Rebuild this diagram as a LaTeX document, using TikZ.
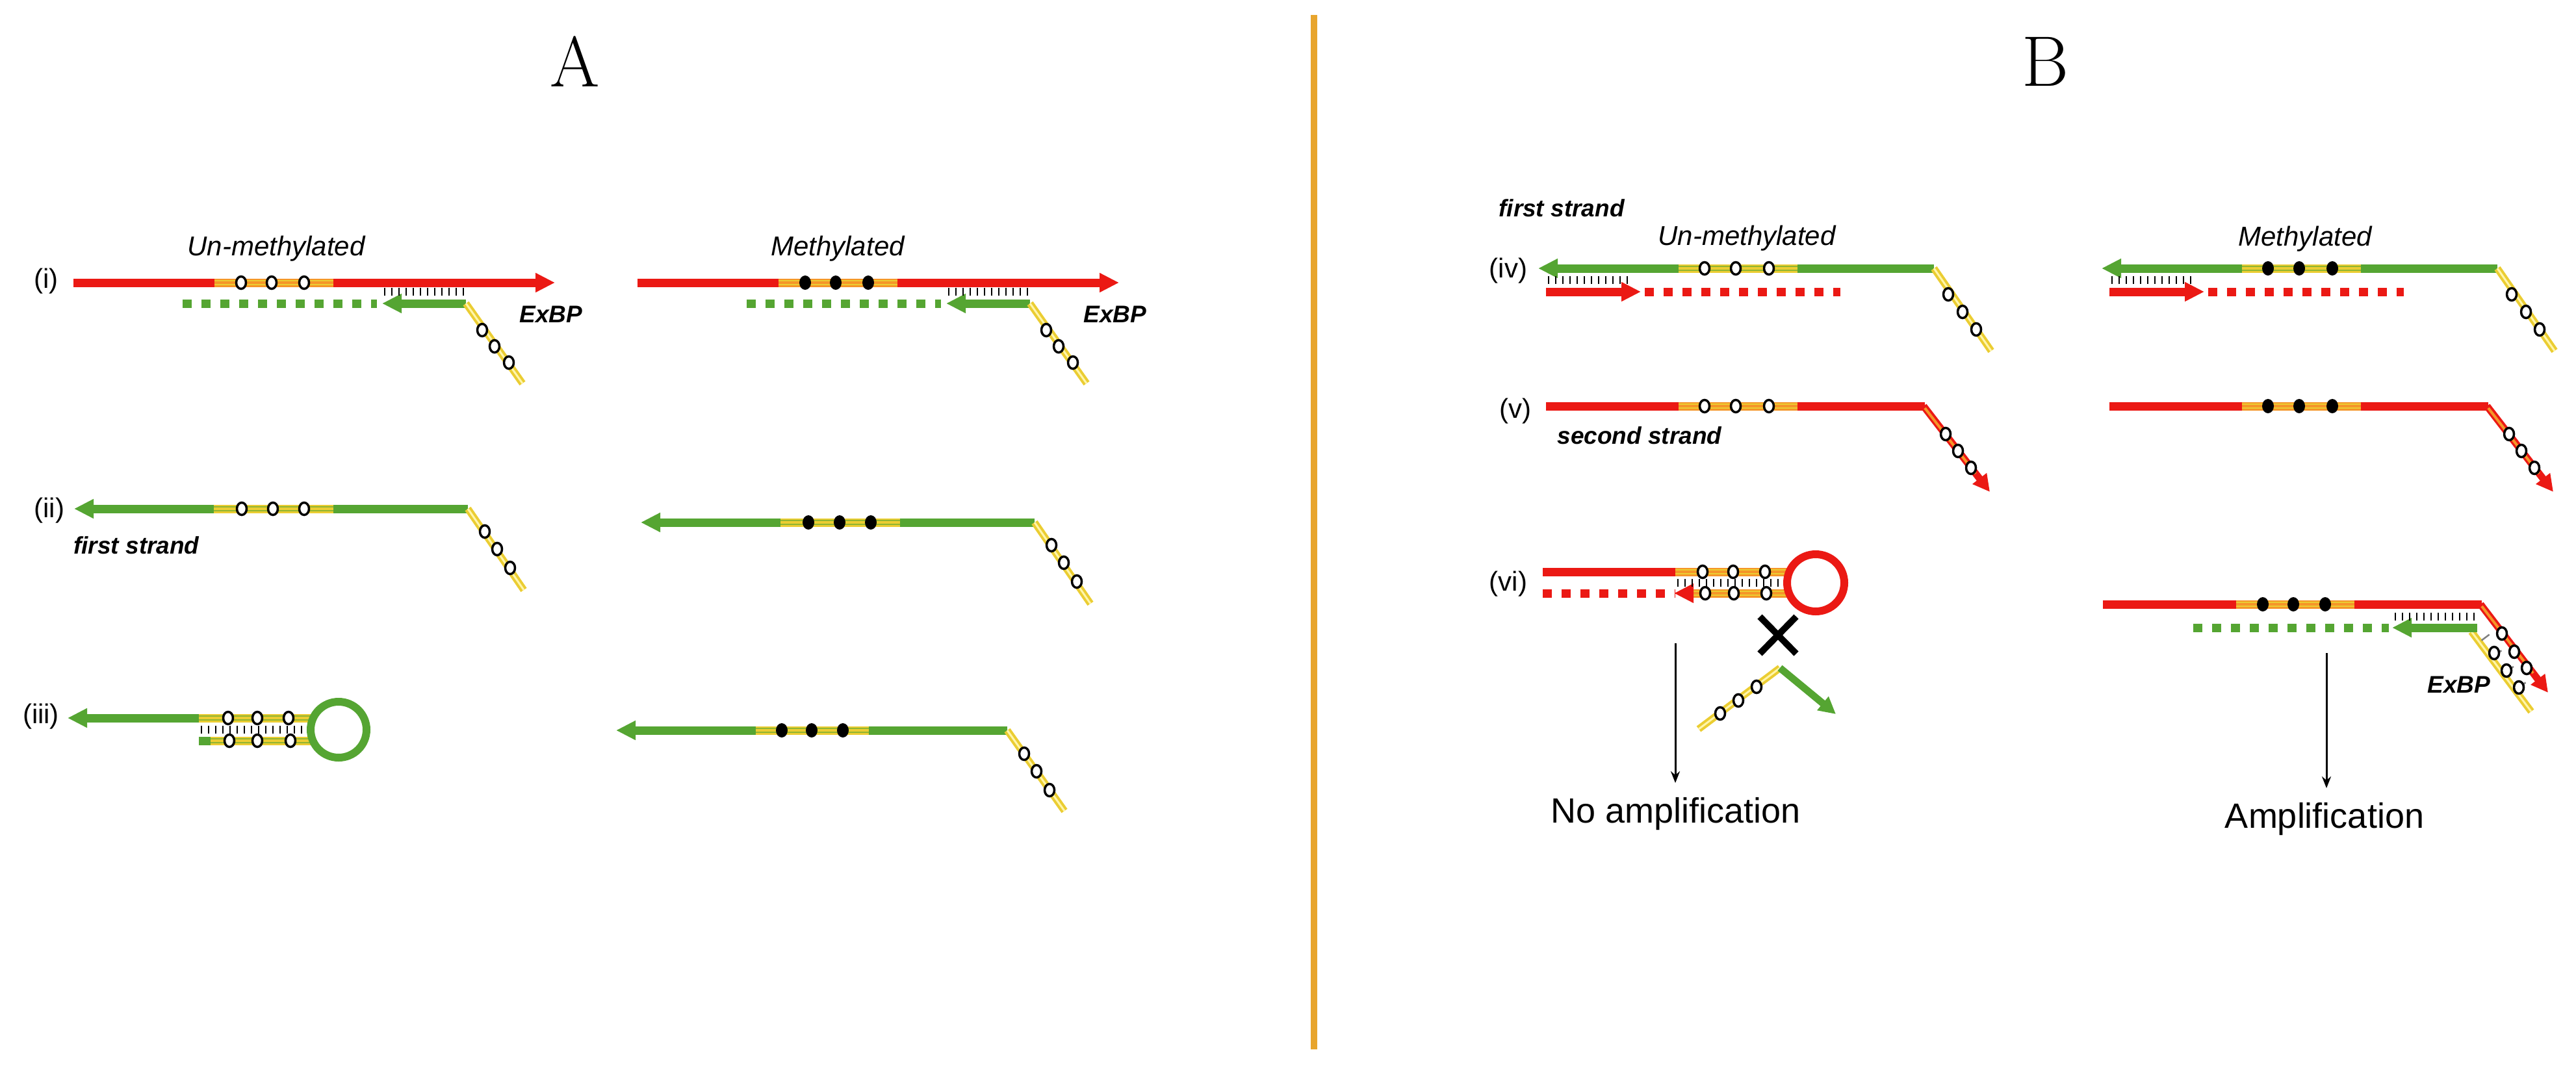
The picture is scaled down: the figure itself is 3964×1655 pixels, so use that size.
\documentclass[tikz,border=0pt]{standalone}
\usepackage{fontspec}
\setsansfont{Liberation Sans}
\usetikzlibrary{arrows.meta,calc}
\definecolor{cred}{RGB}{235,25,20}
\definecolor{cgreen}{RGB}{85,165,50}
\definecolor{corange}{RGB}{245,150,40}
\definecolor{cyel}{RGB}{235,205,50}
\definecolor{cyell}{RGB}{255,245,170}
\definecolor{cdiv}{RGB}{232,165,45}
\tikzset{
 st/.style={line width=13pt},
 tipR/.style={-{Triangle[length=30pt,width=28pt]}},
 dsh/.style={st,dash pattern=on 14pt off 15pt},
 lab/.style={font=\sffamily\fontsize{42}{46}\selectfont},
 it/.style={font=\sffamily\itshape\fontsize{42}{46}\selectfont},
 bi/.style={font=\sffamily\bfseries\itshape\fontsize{37}{42}\selectfont},
 big/.style={font=\sffamily\fontsize{54}{60}\selectfont},
}
\newcommand\oc[2]{\draw[black,line width=3.5pt,fill=white] (#1,#2) ellipse (7.5pt and 9.5pt);}
\newcommand\bc[2]{\fill[black] (#1,#2) ellipse (9pt and 11pt);}
\newcommand\orreg[3]{\draw[st,corange] (#1,#3) -- (#2,#3);
  \draw[cyel,line width=2pt] (#1,#3-3) -- (#2,#3-3) (#1,#3+3) -- (#2,#3+3);}
\newcommand\yreg[3]{\draw[st,cyel] (#1,#3) -- (#2,#3);
  \draw[cgreen!60!cyel,line width=2pt] (#1,#3-3) -- (#2,#3-3) (#1,#3+3) -- (#2,#3+3);}
\newcommand\ticks[4]{\foreach \t in {#1,#2,...,#3} \draw[black,line width=2.5pt] (\t,#4-6) -- (\t,#4+6);}
\newcommand\ytail[4]{\draw[cyel,line width=11pt] (#1,#2) -- (#3,#4); \draw[cyell,line width=3pt] (#1,#2) -- (#3,#4);}
\begin{document}
\begin{tikzpicture}[x=1pt,y=-1pt]
\useasboundingbox[fill=white] (0,0) rectangle (3964,1655);
\node (tA) at (885,95) {\fontsize{110}{120}\selectfont A};
\node (tB) at (3147,95) {\fontsize{110}{120}\selectfont B};
\draw[cdiv,line width=10pt] (2022,23) -- (2022,1615);

% ---------- row (i)
\node[lab] (li) at (71,433) {(i)};
\foreach \dx/\ff in {0/0,868/1}{
\begin{scope}[xshift=\dx pt]
\draw[st,cred,tipR] (113,435) -- (854,435);
\orreg{330}{513}{435}
\ifnum\ff=0 \oc{371}{435}\oc{418}{435}\oc{468}{435}\else \bc{371}{435}\bc{418}{435}\bc{468}{435}\fi
\draw[dsh,cgreen] (281,467) -- (580,467);
\draw[st,cgreen,tipR] (717,467) -- (588,467);
\ticks{592}{603}{713}{449}
\ytail{717}{467}{804}{590}
\oc{742}{508}\oc{761}{533}\oc{783}{558}
\end{scope}}
\node[it] (um1) at (425,383) {Un-methylated};
\node[it] (m1) at (1289,383) {Methylated};
\node[bi] (e1) at (848,484) {ExBP};
\node[bi] (e2) at (1716,484) {ExBP};

% ---------- row (ii)
\node[lab] (lii) at (76,786) {(ii)};
\node[bi] (fs1) at (210,839) {first strand};
\foreach \dx/\dy/\ff in {0/0/0,872/21/1}{
\begin{scope}[xshift=\dx pt,yshift=-\dy pt]
\draw[st,cgreen,tipR] (720,783) -- (114,783);
\yreg{329}{513}{783}
\ifnum\ff=0 \oc{372}{783}\oc{420}{783}\oc{468}{783}\else \bc{372}{783}\bc{420}{783}\bc{468}{783}\fi
\ytail{720}{783}{806}{908}
\oc{746}{818}\oc{765}{845}\oc{785}{874}
\end{scope}}

% ---------- row (iii)
\node[lab] (liii) at (63,1103) {(iii)};
\draw[st,cgreen,tipR] (306,1105) -- (104,1105);
\draw[st,cgreen] (306,1140) -- (326,1140);
\yreg{306}{478}{1105}
\yreg{324}{478}{1140}
\ticks{310}{321}{474}{1123}
\oc{351}{1105}\oc{396}{1105}\oc{444}{1105}
\oc{353}{1140}\oc{396}{1140}\oc{447}{1140}
\draw[cgreen,line width=12pt] (521,1123) circle (43pt);
% right
\draw[st,cgreen,tipR] (1550,1124) -- (948,1124);
\yreg{1163}{1337}{1124}
\bc{1203}{1124}\bc{1249}{1124}\bc{1297}{1124}
\ytail{1550}{1124}{1638}{1248}
\oc{1576}{1160}\oc{1595}{1187}\oc{1615}{1216}

% ---------- row (iv)
\node[bi] (fs2) at (2403,320) {first strand};
\node[lab] (liv) at (2321,417) {(iv)};
\node[it] (um2) at (2688,367) {Un-methylated};
\node[it] (m2) at (3547,368) {Methylated};
\foreach \dx/\ff in {0/0,867/1}{
\begin{scope}[xshift=\dx pt]
\draw[st,cgreen,tipR] (2976,413) -- (2367,413);
\yreg{2583}{2766}{413}
\ifnum\ff=0 \oc{2623}{413}\oc{2671}{413}\oc{2722}{413}\else \bc{2623}{413}\bc{2671}{413}\bc{2722}{413}\fi
\ticks{2383}{2394}{2507}{431}
\draw[st,cred,tipR] (2379,449) -- (2525,449);
\draw[dsh,cred] (2531,449) -- (2832,449);
\ytail{2976}{413}{3064}{540}
\oc{2998}{453}\oc{3020}{480}\oc{3041}{507}
\end{scope}}

% ---------- row (v)
\node[lab] (lv) at (2332,633) {(v)};
\node[bi] (ss) at (2523,670) {second strand};
\foreach \dx/\ff in {0/0,867/1}{
\begin{scope}[xshift=\dx pt]
\draw[st,cred] (2379,625) -- (2962,625);
\orreg{2583}{2766}{625}
\ifnum\ff=0 \oc{2623}{625}\oc{2671}{625}\oc{2722}{625}\else \bc{2623}{625}\bc{2671}{625}\bc{2722}{625}\fi
\draw[cred,line width=11pt,-{Triangle[length=26pt,width=26pt]}] (2960,625) -- (3062,757);
\draw[corange,line width=4pt] (2962,628) -- (3040,729);
\oc{2994}{668}\oc{3013}{694}\oc{3033}{720}
\end{scope}}

% ---------- row (vi) left
\node[lab] (lvi) at (2321,899) {(vi)};
\draw[st,cred] (2374,880) -- (2580,880);
\orreg{2578}{2750}{880}
\draw[dsh,cred] (2374,913) -- (2578,913);
\orreg{2600}{2750}{913}
\draw[st,cred,tipR] (2606,913) -- (2576,913);
\ticks{2582}{2593}{2745}{897}
\oc{2620}{880}\oc{2667}{880}\oc{2716}{880}
\oc{2624}{913}\oc{2668}{913}\oc{2718}{913}
\draw[cred,line width=12pt] (2794,897) circle (44pt);
\draw[black,line width=10pt] (2708,949) -- (2764,1006) (2764,949) -- (2708,1006);
\ytail{2739}{1028}{2614}{1122}
\oc{2703}{1057}\oc{2675}{1078}\oc{2647}{1098}
\draw[cgreen,line width=11pt,-{Triangle[length=26pt,width=26pt]}] (2739,1028) -- (2825,1099);
\coordinate (a1s) at (2578,990);
\coordinate (a1e) at (2578,1205);
\node[big] (na) at (2579,1253) {No amplification};
\draw[black,line width=3pt,-{Stealth[length=18pt,width=14pt]}] (a1s) -- (a1e);

% ---------- row (vi) right
\draw[st,cred] (3236,930) -- (3819,930);
\orreg{3441}{3623}{930}
\bc{3482}{930}\bc{3529}{930}\bc{3578}{930}
\ytail{3803}{972}{3895}{1095}
\draw[cred,line width=11pt,-{Triangle[length=26pt,width=26pt]}] (3817,930) -- (3921,1066);
\draw[corange,line width=4pt] (3819,933) -- (3898,1036);
\foreach \p in {0.2,0.4,0.6,0.8} \draw[gray,line width=2.5pt] ($(3812,952)!\p!(3905,1075)$) -- ++(-12,9);
\draw[dsh,cgreen] (3375,966) -- (3676,966);
\draw[st,cgreen,tipR] (3812,966) -- (3681,966);
\ticks{3686}{3697}{3810}{949}
\oc{3850}{975}\oc{3838}{1005}\oc{3869}{1003}\oc{3857}{1032}\oc{3888}{1028}\oc{3876}{1058}
\node[bi] (e3) at (3784,1054) {ExBP};
\coordinate (a2s) at (3580,1005);
\coordinate (a2e) at (3580,1213);
\node[big] (am) at (3577,1261) {Amplification};
\draw[black,line width=3pt,-{Stealth[length=18pt,width=14pt]}] (a2s) -- (a2e);
\end{tikzpicture}
\end{document}
